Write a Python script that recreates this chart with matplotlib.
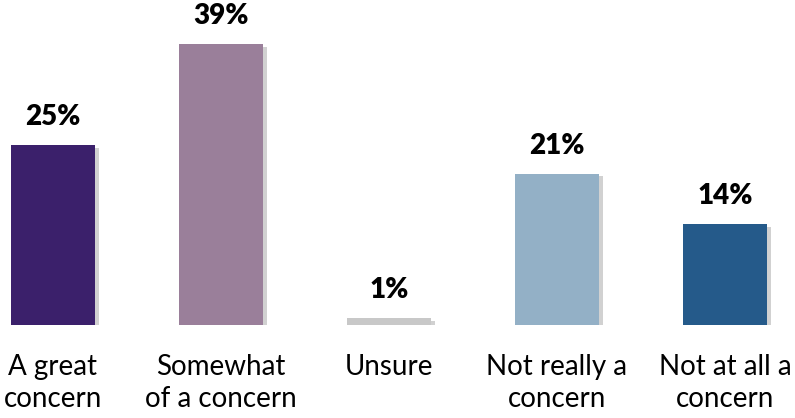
import matplotlib
matplotlib.use("Agg")
import matplotlib.pyplot as plt
import matplotlib.patheffects as pe

categories = ["A great\nconcern", "Somewhat\nof a concern", "Unsure", "Not really a\nconcern", "Not at all a\nconcern"]
values = [25, 39, 1, 21, 14]
colors = ["#3B206B", "#9A7F9A", "#C8C8C8", "#93B0C6", "#255A8A"]

plt.rcParams['font.family'] = ['Lato', 'DejaVu Sans']

fig = plt.figure(figsize=(7.95, 4.18), dpi=100)
ax = fig.add_axes([0, 93/418, 1, 325/418])

x = list(range(len(values)))
bars = ax.bar(x, values, width=0.5, color=colors)
for b in bars:
    b.set_path_effects([pe.SimplePatchShadow(offset=(3, -2), shadow_rgbFace='#999999', alpha=0.45), pe.Normal()])

for xi, v in zip(x, values):
    ax.annotate(f"{v}%", (xi, v), xytext=(0, 20), textcoords='offset pixels',
                ha='center', va='baseline', fontsize=20, fontweight='heavy', color='black')

ax.set_xlim(-0.315, 4.417)
ax.set_ylim(0, 45.1)
ax.set_xticks(x)
ax.set_xticklabels(categories, fontsize=20, linespacing=1.3)
ax.tick_params(axis='x', length=0, pad=21)
ax.set_yticks([])
for s in ax.spines.values():
    s.set_visible(False)

fig.savefig("out.png", dpi=100)
